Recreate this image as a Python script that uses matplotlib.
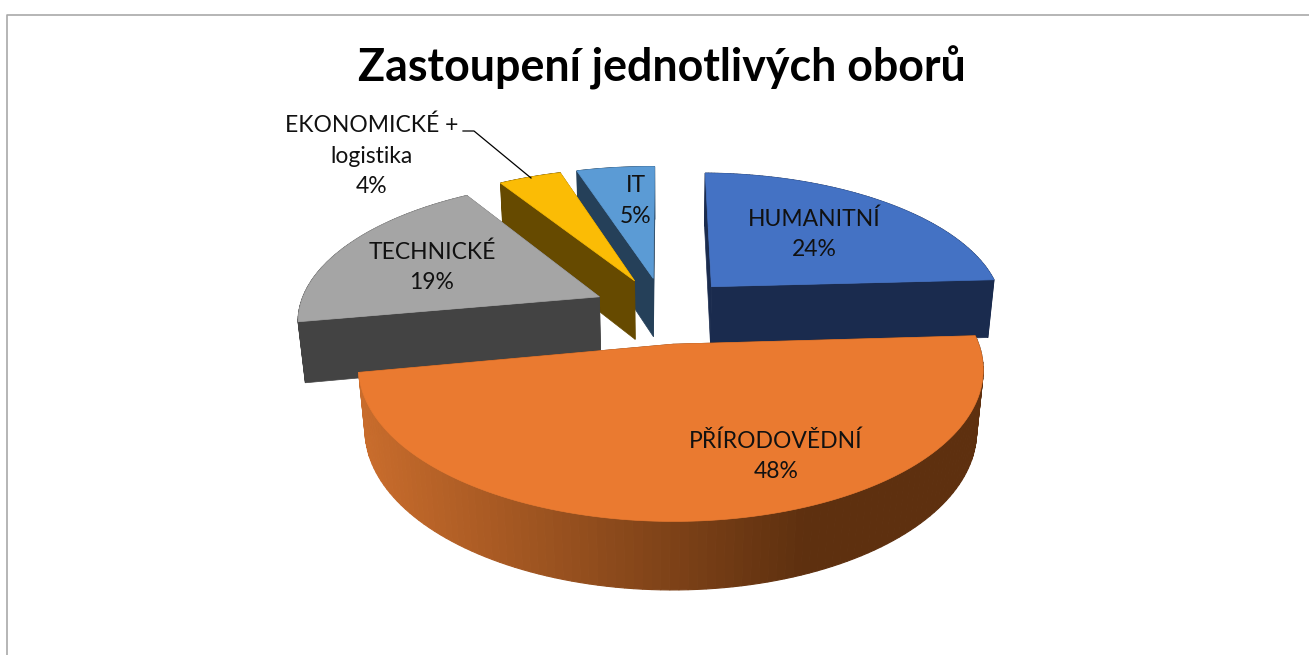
import numpy as np
import matplotlib
matplotlib.use('Agg')
import matplotlib.pyplot as plt

title = 'Zastoupení jednotlivých oborů'
labels = ['HUMANITNÍ', 'PŘÍRODOVĚDNÍ', 'TECHNICKÉ', 'EKONOMICKÉ +\nlogistika', 'IT']
shares = [24, 48, 19, 4, 5]
top_colors = ['#4472c4', '#ea7a30', '#a5a5a5', '#fbbc05', '#5b9bd5']
wall_colors = ['#1a2b4e', '#5e300f', '#434343', '#664a00', '#254059']
label_xy = [(814, 234), (776, 456), (432, 267), (372, 156), (636, 201)]
draw_order = [4, 3, 2, 0, 1]

# projection of the tilted pie, picked by eye
cx, cy = 664, 310
R, Ry, H = 297, 138, 61
k, m, n, s, t = 0.155, 0.008, 0.02, 0, 1
explode = 0.24


def project(u, v, z=0.0):
    d = 1 + k * v + m * u + n * z
    return cx + (R * u + s * v) / d, cy + (-Ry * v + t * u + H * z) / d


def orange_shade(x):
    r = np.interp(x, [365, 808], [0xc8, 0x5e])
    g = np.interp(x, [365, 808], [0x6c, 0x30])
    b = np.interp(x, [365, 808], [0x2c, 0x0f])
    return (r / 255, g / 255, b / 255)


fig = plt.figure(figsize=(13.09, 6.55), dpi=100)
ax = fig.add_axes([0, 0, 1, 1])
ax.set_xlim(0, 1309)
ax.set_ylim(655, 0)
ax.axis('off')

ax.plot([6.5, 6.5, 1309], [655, 14.5, 14.5], color='#a9a9a9', lw=1.2)

ends = np.cumsum(shares) / np.sum(shares) * 2 * np.pi
starts = ends - np.array(shares) / np.sum(shares) * 2 * np.pi

for i in draw_order:
    mid = (starts[i] + ends[i]) / 2
    ox, oy = explode * np.sin(mid), explode * np.cos(mid)
    th = np.linspace(starts[i], ends[i], 120)
    u = ox + np.sin(th)
    v = oy + np.cos(th)

    # side walls from the centre out to the rim
    for a in (th[0], th[-1]):
        ua, va = ox + np.sin(a), oy + np.cos(a)
        xs, ys = zip(project(ox, oy), project(ua, va), project(ua, va, 1), project(ox, oy, 1))
        ax.fill(xs, ys, color=wall_colors[i], lw=0.5)

    # rim, one quad per step so the orange one can carry its gradient
    xt, yt = project(u, v)
    xb, yb = project(u, v, 1)
    for j in range(len(th) - 1):
        col = wall_colors[i]
        if i == 1:
            col = orange_shade(xt[j])
        ax.fill([xt[j], xt[j + 1], xb[j + 1], xb[j]], [yt[j], yt[j + 1], yb[j + 1], yb[j]],
                color=col, lw=0.8)

    x0, y0 = project(ox, oy)
    ax.fill(np.r_[x0, xt], np.r_[y0, yt], color=top_colors[i], lw=0.5)

ax.plot([463, 474, 531], [131, 131, 178], color='black', lw=0.9)

for name, val, (lx, ly) in zip(labels, shares, label_xy):
    ax.text(lx, ly, f'{name}\n{val}%', ha='center', va='center', fontsize=16.5,
            family='Lato', color='#111111', linespacing=1.55)

ax.text(662, 68, title, ha='center', va='center', fontsize=32.2, fontweight='bold',
        family='Lato', color='black')

fig.savefig('out.png', dpi=100)
